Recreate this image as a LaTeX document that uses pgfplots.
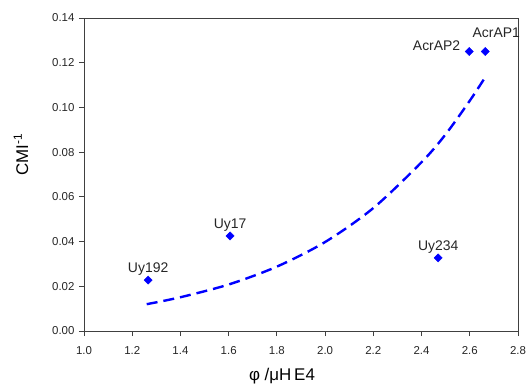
\documentclass[border=0pt]{standalone}
\usepackage{pgfplots}
\pgfplotsset{compat=1.18}
\usepackage{fontspec}
\setmainfont{Liberation Sans}
\begin{document}
\begin{tikzpicture}
\begin{axis}[
  scale only axis,
  width=434bp, height=313bp,
  xmin=1.0, xmax=2.8, ymin=0, ymax=0.14,
  xtick={1.0,1.2,...,2.8}, ytick={0,0.02,...,0.14},
  /pgf/number format/assume math mode=true,
  xticklabel style={/pgf/number format/.cd,fixed,fixed zerofill,precision=1,/tikz/.cd,yshift=-7bp},
  yticklabel style={/pgf/number format/.cd,fixed,fixed zerofill,precision=2,/tikz/.cd,xshift=-1bp},
  ticklabel style={font=\fontsize{11.5}{13}\selectfont, text=black!85},
  tick align=outside, tick pos=lower,
  major tick length=5bp,
  axis line style={black!75, line width=0.8bp},
  tick style={black!75, line width=0.8bp},
  xlabel={φ /μH\,E4}, ylabel={CMI\textsuperscript{-1}},
  xlabel style={font=\fontsize{17}{19}\selectfont, yshift=-7bp, xshift=-19bp},
  ylabel style={font=\fontsize{17}{19}\selectfont, yshift=17bp, xshift=20bp},
  clip=false,
]
\addplot[blue, line width=2.4bp, dash pattern=on 11bp off 6bp, smooth] coordinates {
 (1.26,0.0120) (1.4,0.0151) (1.6,0.0208) (1.8,0.0288) (2.0,0.0398)
 (2.2,0.0550) (2.4,0.0755) (2.5,0.0880) (2.6,0.1030) (2.664,0.1135)};
\addplot[only marks, mark=square*, mark options={rotate=45}, mark size=2.9bp, blue,
  nodes near coords, point meta=explicit symbolic,
  every node near coord/.style={font=\fontsize{14}{16}\selectfont, text=black!85, anchor=south, yshift=1bp}]
 table[meta=label] {
x y label
1.266 0.0228 Uy192
1.606 0.0425 Uy17
2.469 0.0327 Uy234
2.598 0.125 {}
2.664 0.125 {}
};
\node[font=\fontsize{14}{16}\selectfont, text=black!85, anchor=east] at (axis cs:2.575,0.1275) {AcrAP2};
\node[font=\fontsize{14}{16}\selectfont, text=black!85] at (axis cs:2.71,0.1333) {AcrAP1};
\end{axis}
\path (current axis.south west) ++(-84bp,-56bp) rectangle ++(530bp,387bp);
\end{tikzpicture}
\end{document}
